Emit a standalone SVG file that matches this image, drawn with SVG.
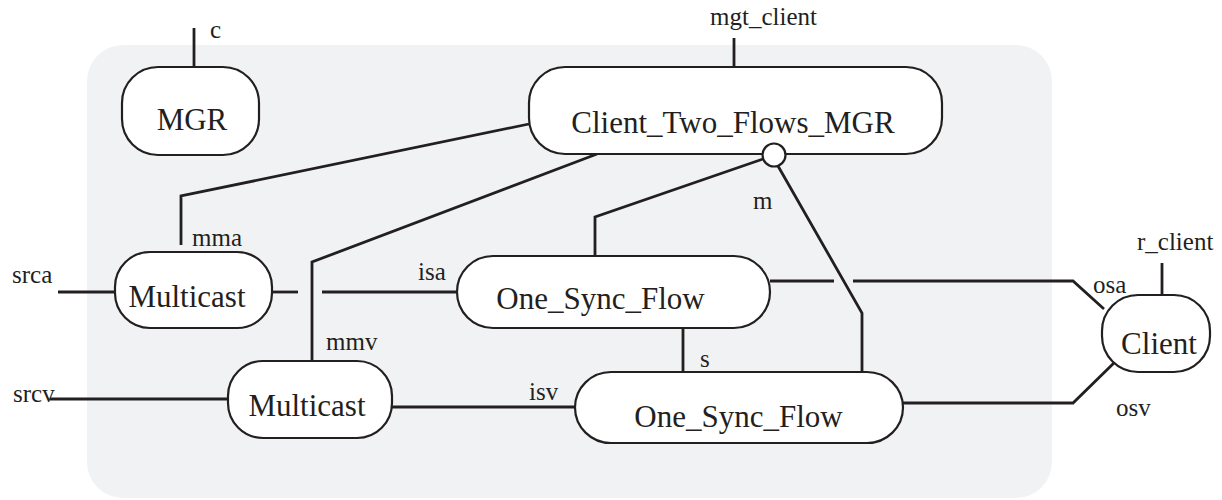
<svg xmlns="http://www.w3.org/2000/svg" width="1222" height="500" viewBox="0 0 1222 500">
  <style>
    .node { fill: #ffffff; stroke: #231f20; stroke-width: 2.2; }
    .wire { fill: none; stroke: #231f20; stroke-width: 2.8; stroke-linejoin: miter; }
    .name { font-family: "Liberation Serif", "Times New Roman", serif; font-size: 31px; fill: #231f20; }
    .port { font-family: "Liberation Serif", "Times New Roman", serif; font-size: 25px; fill: #231f20; }
  </style>

  <!-- enclosing composite -->
  <rect x="87" y="45" width="965" height="453" rx="36" ry="36" fill="#f1f2f4"/>

  <!-- connectors -->
  <g id="connectors">
    <!-- external ports -->
    <line class="wire" x1="194" y1="28" x2="194" y2="67"/>
    <line class="wire" x1="734" y1="38" x2="734" y2="67"/>
    <line class="wire" x1="1162" y1="263" x2="1162" y2="295"/>
    <line class="wire" x1="58" y1="292" x2="115" y2="292"/>
    <line class="wire" x1="50" y1="399" x2="228" y2="399"/>

    <!-- manager links -->
    <polyline class="wire" points="529,124 181,196 181,245"/>
    <polyline class="wire" points="597,154 312,262 312,361"/>
    <polyline class="wire" points="763,159 595,217 595,256"/>
    <polyline class="wire" points="778,166 862,313 862,371"/>

    <!-- audio path (broken where it crosses other wires) -->
    <line class="wire" x1="272" y1="292" x2="298" y2="292"/>
    <line class="wire" x1="322" y1="292" x2="457" y2="292"/>
    <line class="wire" x1="770" y1="281" x2="834" y2="281"/>
    <polyline class="wire" points="853,281 1073,281 1104,309"/>

    <!-- video path -->
    <line class="wire" x1="392" y1="407" x2="575" y2="407"/>
    <polyline class="wire" points="903,403 1073,403 1117,360"/>

    <!-- sync link -->
    <line class="wire" x1="683" y1="328" x2="683" y2="372"/>
  </g>

  <!-- port labels -->
  <g id="labels">
    <text class="port" x="210" y="38">c</text>
    <text class="port" x="710" y="25">mgt_client</text>
    <text class="port" x="1137" y="250">r_client</text>
    <text class="port" x="192" y="246">mma</text>
    <text class="port" x="12" y="283">srca</text>
    <text class="port" x="13" y="402">srcv</text>
    <text class="port" x="418" y="280">isa</text>
    <text class="port" x="326" y="350">mmv</text>
    <text class="port" x="529" y="400">isv</text>
    <text class="port" x="753" y="209">m</text>
    <text class="port" x="700" y="367">s</text>
    <text class="port" x="1093" y="293">osa</text>
    <text class="port" x="1116" y="416">osv</text>
  </g>

  <g id="mgr">
    <rect class="node" x="122" y="67" width="137" height="88" rx="36" ry="36"/>
    <text class="name" x="192" y="130" text-anchor="middle">MGR</text>
  </g>

  <g id="client-two-flows-mgr">
    <rect class="node" x="529" y="67" width="413" height="87" rx="36" ry="36"/>
    <text class="name" x="733" y="133" text-anchor="middle">Client_Two_Flows_MGR</text>
    <circle class="node" cx="774" cy="155" r="11.5"/>
  </g>

  <g id="multicast-audio">
    <rect class="node" x="115" y="252" width="157" height="76" rx="35" ry="35"/>
    <text class="name" x="187" y="307" text-anchor="middle">Multicast</text>
  </g>

  <g id="multicast-video">
    <rect class="node" x="228" y="361" width="164" height="77" rx="35" ry="35"/>
    <text class="name" x="307" y="416" text-anchor="middle">Multicast</text>
  </g>

  <g id="one-sync-flow-audio">
    <rect class="node" x="457" y="256" width="313" height="72" rx="36" ry="36"/>
    <text class="name" x="600.5" y="309" text-anchor="middle">One_Sync_Flow</text>
  </g>

  <g id="one-sync-flow-video">
    <rect class="node" x="575" y="372" width="328" height="71" rx="36" ry="36"/>
    <text class="name" x="738.5" y="427" text-anchor="middle">One_Sync_Flow</text>
  </g>

  <g id="client">
    <rect class="node" x="1102" y="295" width="108" height="77" rx="36" ry="36"/>
    <text class="name" x="1159" y="354" text-anchor="middle">Client</text>
  </g>
</svg>
